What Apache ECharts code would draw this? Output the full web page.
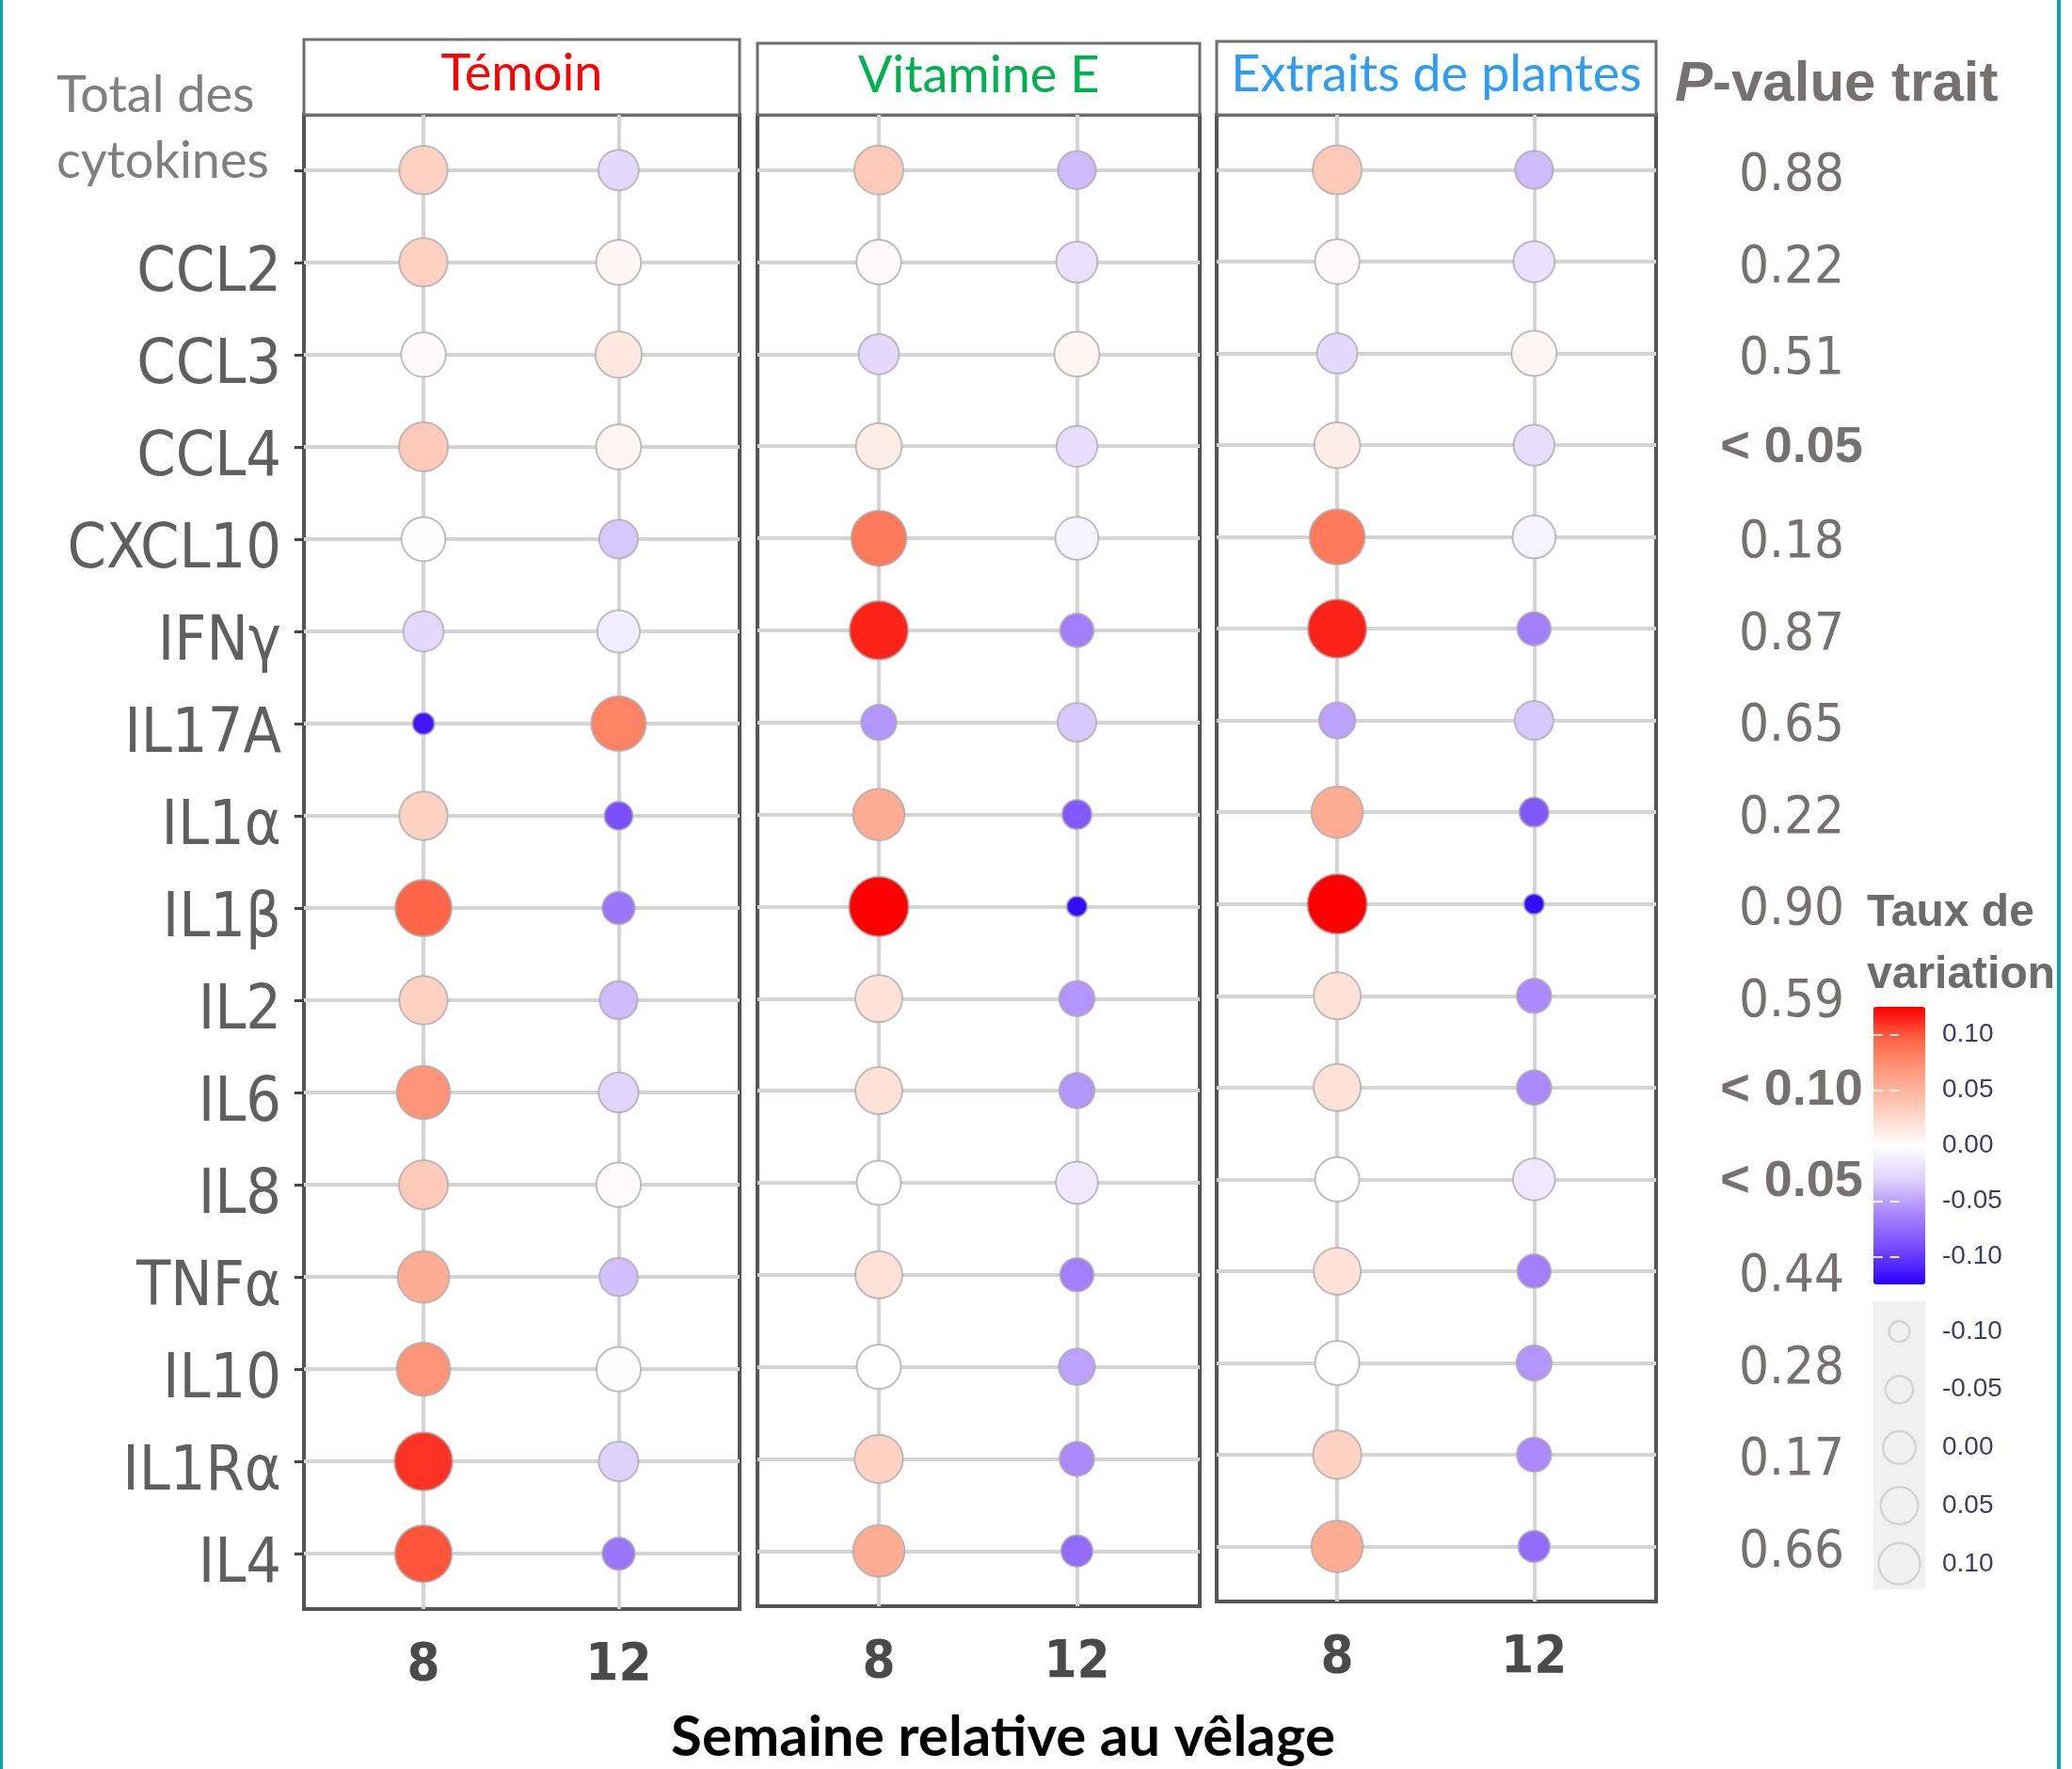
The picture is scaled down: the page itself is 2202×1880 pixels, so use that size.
<!DOCTYPE html>
<html>
<head>
<meta charset="utf-8">
<script src="https://cdn.jsdelivr.net/npm/echarts@6/dist/echarts.min.js"></script>
<style>
  html, body { margin: 0; padding: 0; background: #fff; }
  #main { width: 2202px; height: 1880px; }
</style>
</head>
<body>
<div id="main"></div>
<script>
// --- data ---
var cytokines = ['Total des\ncytokines', 'CCL2', 'CCL3', 'CCL4', 'CXCL10', 'IFNγ', 'IL17A', 'IL1α',
  'IL1β', 'IL2', 'IL6', 'IL8', 'TNFα', 'IL10', 'IL1Rα', 'IL4'];
var weeks = [8, 12];
var groups = ['Témoin', 'Vitamine E', 'Extraits de plantes'];

// taux de variation, week 8 / week 12
var temoinW8 = [0.03, 0.03, 0.003, 0.035, -0.002, -0.025, -0.115, 0.03, 0.095, 0.03, 0.07, 0.035, 0.055, 0.07, 0.11, 0.1];
var temoinW12 = [-0.025, 0.005, 0.015, 0.006, -0.035, -0.012, 0.08, -0.09, -0.07, -0.04, -0.028, 0.002, -0.038, 0.001, -0.03, -0.07];
var vitEW8 = [0.035, 0.003, -0.025, 0.012, 0.085, 0.115, -0.055, 0.055, 0.125, 0.02, 0.02, 0.0, 0.02, 0.0, 0.03, 0.055];
var vitEW12 = [-0.04, -0.02, 0.006, -0.022, -0.008, -0.065, -0.035, -0.085, -0.12, -0.055, -0.055, -0.015, -0.065, -0.05, -0.06, -0.075];
var plantesW8 = [0.035, 0.003, -0.025, 0.012, 0.085, 0.115, -0.05, 0.055, 0.125, 0.02, 0.02, 0.0, 0.02, 0.0, 0.03, 0.055];
var plantesW12 = [-0.04, -0.02, 0.006, -0.022, -0.008, -0.065, -0.035, -0.085, -0.12, -0.06, -0.06, -0.015, -0.065, -0.055, -0.06, -0.075];

var pValues = ['0.88', '0.22', '0.51', '< 0.05', '0.18', '0.87', '0.65', '0.22', '0.90', '0.59',
  '< 0.10', '< 0.05', '0.44', '0.28', '0.17', '0.66'];

var legendTicks = [-0.10, -0.05, 0.00, 0.05, 0.10];

// --- layout / style ---
var groupValues = [[temoinW8, temoinW12], [vitEW8, vitEW12], [plantesW8, plantesW12]];
var groupColors = ['#ff0000', '#00b050', '#2e9cf2'];
var panels = [
  { left: 323, top: 122, width: 463, height: 1588, headTop: 42 },
  { left: 805, top: 122, width: 470, height: 1585, headTop: 46 },
  { left: 1293, top: 122, width: 467, height: 1580, headTop: 44 }
];
var narrow = '"Liberation Sans Narrow", "Arial Narrow", "DejaVu Sans Condensed", sans-serif';
var gridLine = { color: '#d4d4d4', width: 4 };
var rowIdx = cytokines.map(function (c, i) { return i; });
// two-line heading row gets its own axis so it can sit higher, left aligned
var plainRows = rowIdx.filter(function (i) { return cytokines[i].indexOf('\n') < 0; });
var wrapRows = rowIdx.filter(function (i) { return cytokines[i].indexOf('\n') >= 0; });

function dotSize(v) {
  var t = (v + 0.13) / 0.26;
  t = Math.max(0, Math.min(1, t));
  return Math.sqrt(18 * 18 + (64 * 64 - 18 * 18) * t);
}
function legendSize(v) {
  var t = (v + 0.1) / 0.2;
  return Math.sqrt(22 * 22 + (44 * 44 - 22 * 22) * t);
}
function buildData(vals) {
  var out = [];
  weeks.forEach(function (w, k) {
    vals[k].forEach(function (v, r) { out.push([w, r, v]); });
  });
  return out;
}

var grids = panels.map(function (p) {
  return { left: p.left, top: p.top, width: p.width, height: p.height,
    show: true, borderColor: '#555', borderWidth: 4, backgroundColor: '#fff' };
});
grids.push({ left: 1991, top: 1070, width: 55, height: 295, show: false });
grids.push({ left: 1991, top: 1383, width: 55, height: 306, show: true,
  backgroundColor: '#f0f0f0', borderWidth: 0 });

var xAxes = panels.map(function (p, i) {
  return {
    gridIndex: i, type: 'value', min: 5.55, max: 14.48,
    axisLine: { show: false },
    axisTick: { show: true, customValues: weeks, length: 14, lineStyle: { color: '#444', width: 3 } },
    axisLabel: { customValues: weeks, margin: 32, fontSize: 56, fontWeight: 'bold',
      color: '#4a4a4a', fontFamily: narrow },
    splitLine: { show: true, lineStyle: gridLine }
  };
});
xAxes.push({ gridIndex: 3, type: 'value', min: -1, max: 1, show: false });
xAxes.push({ gridIndex: 4, type: 'value', min: -1, max: 1, show: false });

var yAxes = panels.map(function (p, i) {
  return {
    gridIndex: i, type: 'value', inverse: true, min: -0.6, max: 15.6, position: 'left',
    axisLine: { show: false },
    axisTick: { show: i === 0, customValues: rowIdx, length: 10, lineStyle: { color: '#444', width: 3 } },
    axisLabel: {
      show: i === 0, customValues: plainRows, margin: 24, fontSize: 66, color: '#5f5f5f',
      fontFamily: narrow, verticalAlign: 'top', lineHeight: 26,
      formatter: function (v) { return cytokines[v]; }
    },
    splitLine: { show: true, lineStyle: gridLine }
  };
});
// "Total des cytokines" heading label (yAxis 3), range shifted so the two lines sit above the row
yAxes.push({
  gridIndex: 0, type: 'value', inverse: true, min: -0.152, max: 16.048, position: 'left',
  axisLine: { show: false }, axisTick: { show: false }, splitLine: { show: false },
  axisLabel: {
    customValues: wrapRows, margin: 263, align: 'left', fontFamily: 'Lato', fontSize: 54,
    color: '#7f7f7f', lineHeight: 70,
    formatter: function (v) { return cytokines[v]; }
  }
});
// p-value column on the right of the last panel (yAxis 4)
yAxes.push({
  gridIndex: 2, type: 'value', inverse: true, min: -0.6, max: 15.6, position: 'right',
  axisLine: { show: false }, axisTick: { show: false }, splitLine: { show: false },
  axisLabel: {
    customValues: rowIdx, margin: 144, align: 'center', verticalAlign: 'top', lineHeight: 14,
    formatter: function (v) {
      var p = pValues[v];
      return p.charAt(0) === '<' ? '{b|' + p + '}' : '{r|' + p + '}';
    },
    rich: {
      r: { fontFamily: narrow, fontSize: 56, color: '#757171', lineHeight: 14 },
      b: { fontFamily: '"Liberation Sans", Arial, sans-serif', fontWeight: 'bold', fontSize: 54,
        color: '#757171', lineHeight: 6 }
    }
  }
});
// colour bar scale (labels right, white ticks on both edges) (yAxis 5, 6)
var legendLabel = { customValues: legendTicks, margin: 18, fontSize: 28, color: '#3d3d5c',
  fontFamily: '"Liberation Sans", Arial, sans-serif',
  formatter: function (v) { return v.toFixed(2); } };
yAxes.push({
  gridIndex: 3, type: 'value', min: -0.125, max: 0.125, position: 'right', z: 10,
  axisLine: { show: false }, splitLine: { show: false },
  axisTick: { show: true, inside: true, customValues: legendTicks, length: 10,
    lineStyle: { color: 'rgba(255,255,255,0.85)', width: 2 } },
  axisLabel: legendLabel
});
yAxes.push({
  gridIndex: 3, type: 'value', min: -0.125, max: 0.125, position: 'left', z: 10,
  axisLine: { show: false }, splitLine: { show: false }, axisLabel: { show: false },
  axisTick: { show: true, inside: true, customValues: legendTicks, length: 10,
    lineStyle: { color: 'rgba(255,255,255,0.85)', width: 2 } }
});
// size legend scale (yAxis 7)
yAxes.push({
  gridIndex: 4, type: 'value', inverse: true, min: -0.126, max: 0.122, position: 'right',
  axisLine: { show: false }, splitLine: { show: false }, axisTick: { show: false },
  axisLabel: legendLabel
});

var series = groups.map(function (g, i) {
  return {
    name: g, type: 'scatter', xAxisIndex: i, yAxisIndex: i,
    data: buildData(groupValues[i]),
    symbolSize: function (d) { return dotSize(d[2]); },
    itemStyle: { borderColor: 'rgba(170,170,170,0.75)', borderWidth: 2, opacity: 1 },
    z: 3
  };
});
series.push({
  name: 'taille', type: 'scatter', xAxisIndex: 4, yAxisIndex: 7,
  data: legendTicks.map(function (v) { return [0, v]; }),
  symbolSize: function (d) { return legendSize(d[1]); },
  itemStyle: { color: 'rgba(0,0,0,0)', borderColor: '#cdcdcd', borderWidth: 2.5 },
  silent: true
});

var graphics = [
  { type: 'rect', shape: { x: 1, y: -60, width: 2187, height: 2020, r: 40 },
    style: { fill: null, stroke: '#10a5a5', lineWidth: 4 }, z: 100 }
];
panels.forEach(function (p, i) {
  graphics.push({ type: 'rect', shape: { x: p.left, y: p.headTop, width: p.width, height: p.top - p.headTop },
    style: { fill: '#fff', stroke: '#6e6e6e', lineWidth: 3 } });
  graphics.push({ type: 'text', x: p.left + p.width / 2, y: (p.headTop + p.top) / 2 - 3,
    style: { text: groups[i], fill: groupColors[i], font: '54px Lato', textAlign: 'center', textVerticalAlign: 'middle' } });
});
graphics.push({ type: 'text', x: 1066, y: 1847,
  style: { text: 'Semaine relative au vêlage', fill: '#000', font: 'bold 60px Lato',
    textAlign: 'center', textVerticalAlign: 'middle' } });
graphics.push({ type: 'text', x: 1780, y: 90,
  style: { text: '{i|P}{b|-value trait}', textVerticalAlign: 'middle',
    rich: {
      i: { fontFamily: '"Liberation Sans", Arial, sans-serif', fontStyle: 'italic', fontWeight: 'bold', fontSize: 60, fill: '#757171' },
      b: { fontFamily: '"Liberation Sans", Arial, sans-serif', fontWeight: 'bold', fontSize: 60, fill: '#757171' }
    } } });
graphics.push({ type: 'text', x: 1984, y: 938,
  style: { text: 'Taux de\nvariation', fill: '#6b6b6b', font: 'bold 48px "Liberation Sans", Arial, sans-serif',
    lineHeight: 66, textVerticalAlign: 'top' } });

var option = {
  backgroundColor: '#fff',
  animation: false,
  grid: grids,
  xAxis: xAxes,
  yAxis: yAxes,
  visualMap: {
    type: 'continuous', seriesIndex: [0, 1, 2], dimension: 2,
    min: -0.125, max: 0.125, calculable: false, padding: 0,
    left: 1991, top: 1070, itemWidth: 55, itemHeight: 295,
    inRange: { color: ['#2a00ff', '#7448ff', '#a684fc', '#ddd0fc', '#ffffff',
      '#fdd0c0', '#fea286', '#ff6a4a', '#ff0000'] }
  },
  series: series,
  graphic: graphics
};

var chartDom = document.getElementById('main');
var myChart = echarts.init(chartDom);
option && myChart.setOption(option);
</script>
</body>
</html>
